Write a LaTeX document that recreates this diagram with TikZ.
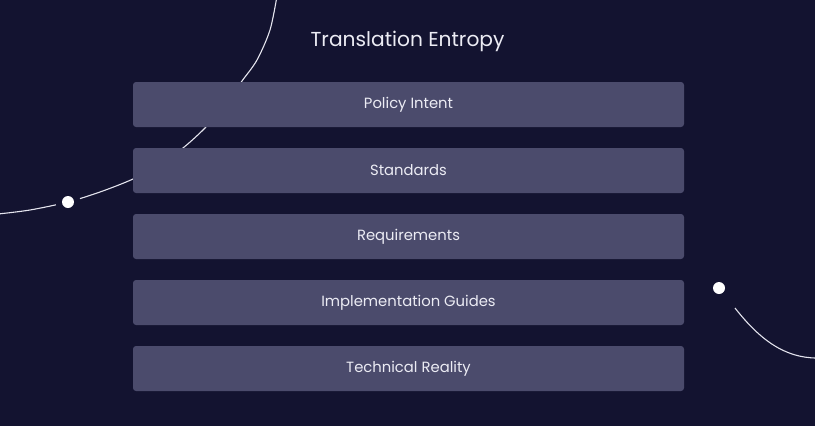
\documentclass[tikz,border=0pt]{standalone}
\usepackage{fontspec}
\setmainfont{Poppins}
\definecolor{bgc}{HTML}{131330}
\definecolor{boxc}{HTML}{4B4B6C}
\definecolor{txtc}{HTML}{ECECF4}
\definecolor{linec}{HTML}{E4E4EE}
\tikzset{
  layer/.style={fill=boxc, rounded corners=3pt, minimum width=551pt, minimum height=45pt, inner sep=0pt, text=txtc, font=\fontsize{14.8}{16}\selectfont},
  deco/.style={draw=linec, line width=1.1pt},
  dotc/.style={circle, fill=white, minimum size=12pt, inner sep=0pt},
}
\begin{document}
\begin{tikzpicture}[x=1pt,y=-1pt]
\fill[bgc] (0,0) rectangle (815,426);
\useasboundingbox (0,0) rectangle (815,426);
% decorative curves
\draw[deco] plot[smooth] coordinates {(277,-4) (270,30) (257,60) (242,81) (224,106) (205,128) (183,148) (160,164) (133,179) (100,192) (68,202) (30,210) (-2,214)};
\draw[deco] (735,308) .. controls (760,340) and (785,358) .. (817,358);
\fill[bgc] (68,202) circle (12.5pt);
\node[dotc] (d1) at (68,202) {};
\node[dotc] (d2) at (719,288) {};
% title
\node[text=txtc, font=\fontsize{20.2}{23}\selectfont] (title) at (407.5,41) {Translation Entropy};
% layers
\node[layer] (l1) at (408.5,104.5) {Policy Intent};
\node[layer] (l2) at (408.5,170.5) {Standards};
\node[layer] (l3) at (408.5,236.5) {Requirements};
\node[layer] (l4) at (408.5,302.5) {Implementation Guides};
\node[layer] (l5) at (408.5,368.5) {Technical Reality};
\end{tikzpicture}
\end{document}
